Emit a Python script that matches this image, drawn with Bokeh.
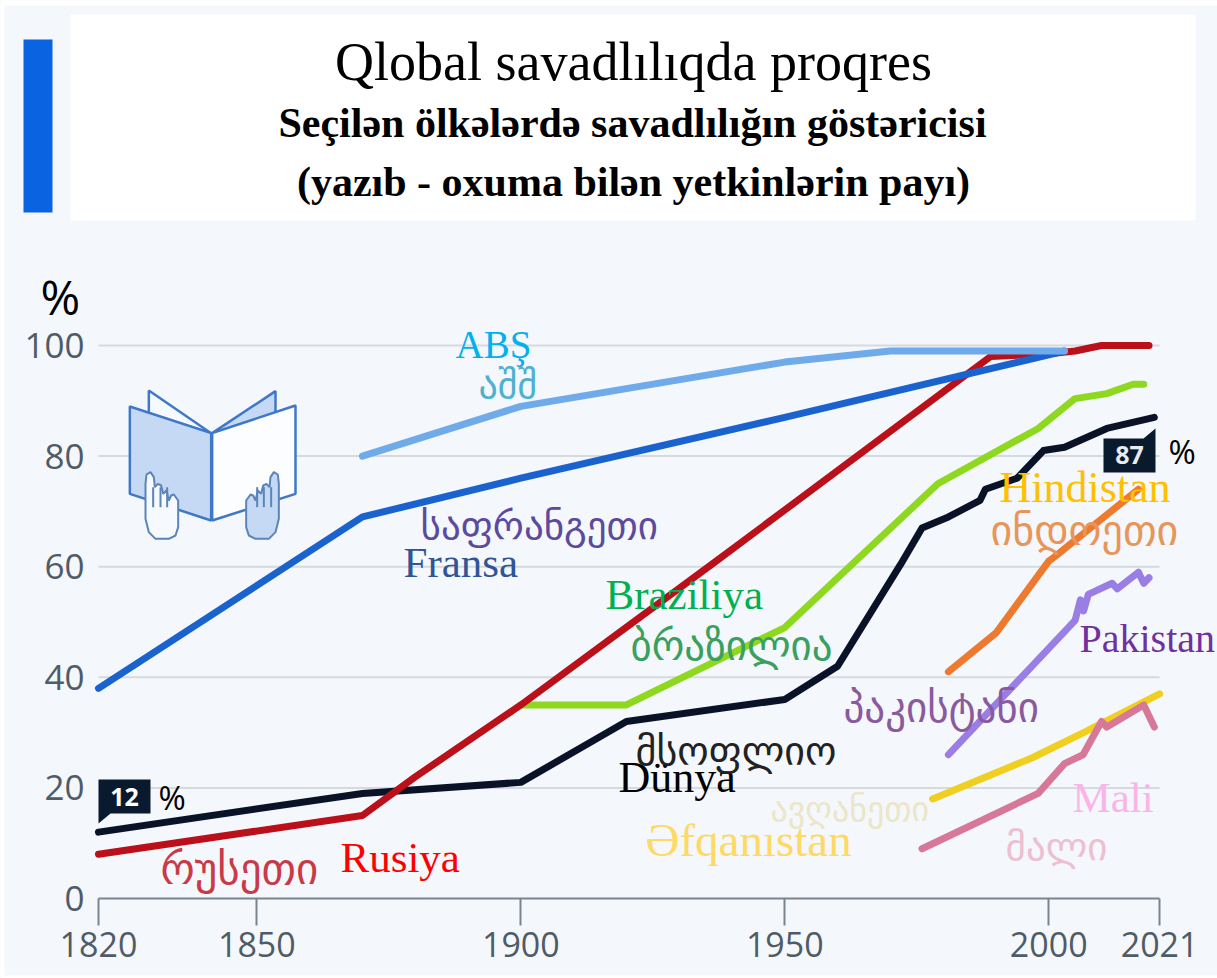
from bokeh.plotting import figure
from bokeh.models import Label, BoxAnnotation, FixedTicker
from bokeh.embed import file_html
from bokeh.resources import INLINE

# ---- data ----
world_x = [1820, 1870, 1900, 1920, 1950, 1960, 1972, 1976, 1981, 1987, 1988, 1994, 1999, 2003, 2011, 2020]
world_y = [12, 19, 21, 32, 36, 42, 60.5, 67, 69, 72, 74, 76, 81, 81.6, 85, 87]
russia_x = [1820, 1870, 1880, 1900, 1937, 1989, 2000, 2005, 2010, 2019]
russia_y = [8, 15, 22, 35, 61, 98, 98.5, 99, 100, 100]
france_x = [1820, 1870, 1900, 1950, 2003]
france_y = [38, 69, 76, 87, 99]
usa_x = [1870, 1900, 1950, 1970, 2003]
usa_y = [80, 89, 97, 99, 99]
brazil_x = [1900, 1920, 1950, 1979, 1998, 2005, 2011, 2016, 2018]
brazil_y = [35, 35, 49, 75, 85, 90.4, 91.3, 93, 93]
india_x = [1981, 1990, 2000, 2001, 2017]
india_y = [41, 48, 61, 61.7, 74]
pakistan_x = [1981, 2005, 2006, 2006.6, 2007.5, 2012, 2013, 2017, 2018, 2019]
pakistan_y = [26, 50.3, 54, 52, 55, 57, 56, 59, 57, 58]
afghan_x = [1978, 1997, 2006.6, 2021]
afghan_y = [18, 25.5, 30, 37]
mali_x = [1976, 1998, 2003, 2006.5, 2010, 2011, 2018, 2020]
mali_y = [9, 19, 24.4, 26, 32, 31, 35, 31]

x_ticks = [1820, 1850, 1900, 1950, 2000, 2021]
y_ticks = [0, 20, 40, 60, 80, 100]

title_lines = ["Qlobal savadlılıqda proqres",
               "Seçilən ölkələrdə savadlılığın göstəricisi",
               "(yazıb - oxuma bilən yetkinlərin payı)"]

BG = "#f4f7fb"
SERIF = "Liberation Serif"
SANS = "Open Sans"
GEO = "DejaVu Sans"

# page pixel -> data helpers for the plot window and decoration
def xd(px):
    return 1820 + (px - 98) / 5.279
def yd(py):
    return (898 - py) / 5.53

p = figure(width=1217, height=978, output_backend="svg", toolbar_location=None,
           x_range=(xd(0), xd(1217)), y_range=(yd(978), yd(0)),
           min_border=0, min_border_left=0, min_border_right=0, min_border_top=0, min_border_bottom=0,
           background_fill_color=BG, border_fill_color=BG, outline_line_color=None)

p.xgrid.visible = False
p.ygrid.visible = False
grid_y = [t for t in y_ticks if t > 0]
p.segment(x0=[x_ticks[0]] * len(grid_y), x1=[x_ticks[-1]] * len(grid_y), y0=grid_y, y1=grid_y,
          line_color="#d6dadf", line_width=2)

p.xaxis.fixed_location = 0
p.xaxis.bounds = (1820, 2021)
p.xaxis.ticker = FixedTicker(ticks=x_ticks)
p.xaxis.axis_line_color = "#7a848e"
p.xaxis.axis_line_width = 2
p.xaxis.major_tick_line_color = "#7a848e"
p.xaxis.major_tick_line_width = 2
p.xaxis.major_tick_in = 0
p.xaxis.major_tick_out = 27
p.xaxis.minor_tick_line_color = None
p.xaxis.major_label_text_font = SANS
p.xaxis.major_label_text_font_size = "34px"
p.xaxis.major_label_text_color = "#4f5b66"
p.xaxis.major_label_standoff = 6

p.yaxis.fixed_location = 1820
p.yaxis.bounds = (0, 100)
p.yaxis.ticker = FixedTicker(ticks=y_ticks)
p.yaxis.axis_line_color = None
p.yaxis.major_tick_line_color = None
p.yaxis.minor_tick_line_color = None
p.yaxis.major_label_text_font = SANS
p.yaxis.major_label_text_font_size = "35px"
p.yaxis.major_label_text_color = "#4f5b66"
p.yaxis.major_label_standoff = 8

def block(left, right, top, bottom, fill):
    p.add_layout(BoxAnnotation(left=left, right=right, top=top, bottom=bottom,
                               left_units="canvas", right_units="canvas",
                               top_units="canvas", bottom_units="canvas",
                               fill_color=fill, fill_alpha=1, line_color=None))
block(0, 4, 0, 978, "white")
block(0, 1217, 0, 5, "white")
block(0, 1217, 975, 978, "white")
block(70, 1195, 14, 220, "white")
block(23, 52, 39, 212, "#0a63e0")

def label(text, left, base, size, color, font=SERIF, style="normal", align="left", baseline="alphabetic"):
    # Bokeh's alphabetic anchor sits lower than the true baseline; compensate
    y = base - 0.37 * size if baseline == "alphabetic" else base
    p.add_layout(Label(x=left, y=y, x_units="canvas", y_units="canvas",
                       text=text, text_font=font,
                       text_font_size=f"{size}px", text_color=color, text_font_style=style,
                       text_align=align, text_baseline=baseline))

label(title_lines[0], 633, 81, 54, "black", align="center")
label(title_lines[1], 632, 138, 42, "black", style="bold", align="center")
label(title_lines[2], 633, 197, 42, "black", style="bold", align="center")

# book icon, in zoomed-crop coordinates
def ix(v):
    return [xd(a / 3) for a in v]
def iy(v):
    return [yd(270 + a / 3) for a in v]

ICON = "#3f78c8"
PALE = "#c5d9f4"
book = [
    ([445, 632, 445], [360, 488, 428], "#f6f9fd"),
    ([825, 635, 825], [362, 488, 428], PALE),
    ([388, 632, 632, 388], [408, 488, 750, 670], PALE),
    ([885, 635, 635, 885], [405, 488, 750, 670], "#fbfdff"),
]
for xs, ys, fill in book:
    p.patch(ix(xs), iy(ys), fill_color=fill, line_color=ICON, line_width=2.5)

hand_x = [435, 438, 450, 460, 463, 472, 482, 488, 498, 505, 512, 520, 533, 533, 525, 505, 465, 445, 435]
hand_y = [640, 612, 605, 620, 650, 640, 645, 670, 660, 690, 675, 672, 690, 770, 795, 805, 805, 785, 745]
p.patch(ix(hand_x), iy(hand_y), fill_color="#f6f9fd", line_color="#5b84b8", line_width=2)
p.patch(ix([1270 - a for a in hand_x]), iy(hand_y), fill_color=PALE, line_color="#5b84b8", line_width=2)
for fx in (458, 480, 500):
    p.line(ix([fx, fx]), iy([650, 710]), line_color="#5b84b8", line_width=2)
    p.line(ix([1270 - fx, 1270 - fx]), iy([650, 710]), line_color="#5b84b8", line_width=2)

# series
LW = 7
series = [
    (world_x, world_y, "#0a1228"),
    (brazil_x, brazil_y, "#8ed820"),
    (russia_x, russia_y, "#bb0f1a"),
    (france_x, france_y, "#1a63cf"),
    (usa_x, usa_y, "#6faaea"),
    (india_x, india_y, "#ee7a30"),
    (pakistan_x, pakistan_y, "#9a7ee6"),
    (afghan_x, afghan_y, "#f0cf20"),
    (mali_x, mali_y, "#d87898"),
]
for xs, ys, col in series:
    p.line(xs, ys, line_color=col, line_width=LW, line_cap="round", line_join="round")

# value tags
TAG = "#0a1a2e"
p.patch([xd(a) for a in (98, 150, 150, 110, 98)], [yd(a) for a in (779, 779, 813, 813, 823)],
        fill_color=TAG, line_color=None)
p.patch([xd(a) for a in (1103, 1143, 1155, 1155, 1103)], [yd(a) for a in (438, 438, 428, 472, 472)],
        fill_color=TAG, line_color=None)
label("12", 124, 796, 25, "white", font=SANS, style="bold", align="center", baseline="middle")
label("87", 1129, 454, 25, "#e8ecf0", font=SANS, style="bold", align="center", baseline="middle")
label("%", 158, 809, 33, "black", font=SANS)
label("%", 1168, 463, 33, "black", font=SANS)
label("%", 40, 314, 48, "black", font=SANS)

# Azerbaijani labels
label("ABŞ", 455, 358, 39, "#00b0f0")
label("Fransa", 403, 578, 43, "#2f5597")
label("Braziliya", 605, 610, 43, "#00b050")
label("Hindistan", 999, 503, 44, "#ffc000")
label("Pakistan", 1079, 653, 40, "#7030a0")
label("Dünya", 618, 793, 44, "black")
label("Əfqanıstan", 645, 857, 47, "#ffd966")
label("Mali", 1072, 813, 43, "#f9b4e8")
label("Rusiya", 340, 873, 43, "#ff0000")

# Georgian labels
label("აშშ", 478, 384, 38, "#4fb0d0", font=GEO, baseline="middle")
label("საფრანგეთი", 420, 525, 39, "#5b4a9e", font=GEO, baseline="middle")
label("ბრაზილია", 630, 645, 41, "#3aa060", font=GEO, baseline="middle")
label("ინდოეთი", 990, 530, 42, "#e8955a", font=GEO, baseline="middle")
label("პაკისტანი", 843, 707, 41, "#8a5a9e", font=GEO, baseline="middle")
label("მსოფლიო", 635, 750, 40, "#222222", font=GEO, baseline="middle")
label("ავღანეთი", 770, 808, 34, "#ece6c8", font=GEO, baseline="middle")
label("მალი", 1005, 846, 39, "#ecc0d0", font=GEO, baseline="middle")
label("რუსეთი", 160, 868, 43, "#c83a48", font=GEO, baseline="middle")

html = file_html(p, INLINE)
html = html.replace("</head>", "<style>html,body{margin:0;padding:0}</style></head>", 1)
open("out.html", "w").write(html)
